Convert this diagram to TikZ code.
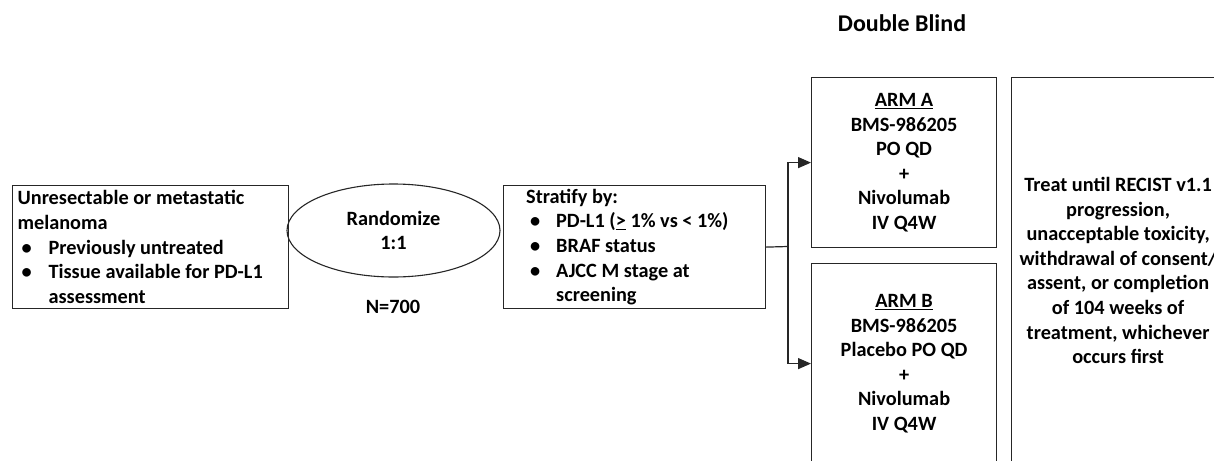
\documentclass[tikz,border=0pt]{standalone}
\usepackage{fontspec}
\setmainfont{Carlito}
\usetikzlibrary{arrows.meta,shapes.geometric}
\newcommand{\bl}[2]{\hspace*{#1pt}\makebox[#2pt][l]{\textbullet}}
\newcommand{\ind}[1]{\hspace*{#1pt}}
\begin{document}
\begin{tikzpicture}[x=1pt,y=-1pt,
  every node/.style={font=\bfseries\fontsize{20.3}{24.6}\selectfont, inner sep=0pt},
  boxnode/.style={draw=black!85, line width=1.2pt, rectangle},
  conn/.style={draw=black!85, line width=1.2pt},
  arr/.style={conn, -{Triangle[length=13pt,width=11pt]}}]
\clip (0,0) rectangle (1214,460);
\fill[white] (0,0) rectangle (1214,460);

\node[boxnode, anchor=north west, minimum width=276pt, minimum height=123pt,
      text width=266pt, align=flush left] (pop) at (12,185)
  {Unresectable or metastatic\\melanoma\\
   \bl{4}{27}Previously untreated\\
   \bl{4}{27}Tissue available for PD-L1\\
   \ind{31}assessment};

\node[ellipse, draw=black!85, line width=1.1pt, minimum width=213pt, minimum height=93pt,
      align=center] (rand) at (393.5,230.5) {Randomize\\1:1};
\node (n) at (393,307) {N=700};

\node[boxnode, anchor=north west, minimum width=262pt, minimum height=123pt] (strat) at (503,185) {};
\node[anchor=west, text width=235pt, align=flush left] (strattext) at ([xshift=23pt]strat.west)
  {Stratify by:\\
   \bl{4}{26}PD-L1 (\underline{>} 1\% vs < 1\%)\\
   \bl{4}{26}BRAF status\\
   \bl{4}{26}AJCC M stage at\\
   \ind{30}screening};

\node[boxnode, anchor=north west, minimum width=185pt, minimum height=170pt,
      align=center] (armA) at (811,77)
  {\underline{ARM A}\\BMS-986205\\PO QD\\+\\Nivolumab\\IV Q4W};

\node[boxnode, anchor=north west, minimum width=185pt, minimum height=200pt,
      align=center] (armB) at (811,263)
  {\underline{ARM B}\\BMS-986205\\Placebo PO QD\\+\\Nivolumab\\IV Q4W};

\node[boxnode, anchor=north west, minimum width=213pt, minimum height=386pt,
      align=center] (treat) at (1011,77)
  {Treat until RECIST v1.1\\progression,\\unacceptable toxicity,\\withdrawal of consent/\\
   assent, or completion\\of 104 weeks of\\treatment, whichever\\occurs first};

\node[font=\bfseries\fontsize{24}{28}\selectfont] (db) at (902,23) {Double Blind};

\coordinate (split) at (788,246.5);
\draw[conn] (strat.east) -- (split);
\draw[arr] (split) |- (armA.west);
\draw[arr] (split) |- (armB.west);
\end{tikzpicture}
\end{document}
